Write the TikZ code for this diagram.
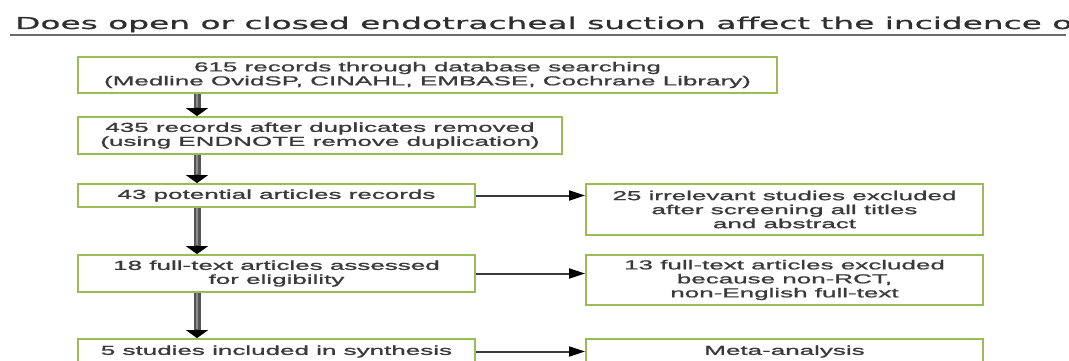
\documentclass[tikz,border=0pt]{standalone}
\usepackage{fontspec}
\usetikzlibrary{arrows.meta,shadows}
\newfontfamily\boxfont[FakeStretch=2,FakeBold=1.2]{Liberation Sans}
\newfontfamily\titlefont[FakeStretch=2,FakeBold=0.8]{DejaVu Sans}
\definecolor{boxgreen}{HTML}{9BBB59}
\definecolor{boxtext}{HTML}{3A3A3A}
\definecolor{titletext}{HTML}{2F2F2F}
\definecolor{rulegray}{HTML}{6B6B6B}
\definecolor{shaftgray}{HTML}{555555}
\definecolor{shaftlight}{HTML}{8C8C8C}
\tikzset{
  flowbox/.style={draw=boxgreen, line width=1.8pt, fill=white, rectangle,
    inner sep=0pt, align=center, text=boxtext,
    font=\boxfont\fontsize{13}{14}\selectfont,
    drop shadow={opacity=0.25, shadow xshift=1.2pt, shadow yshift=-1.2pt}},
  downarrow/.style={line width=7pt, draw=shaftgray,
    -{Triangle[width=22pt,length=8pt,color=black]}},
  downlight/.style={line width=2.2pt, draw=shaftlight, shorten >=9pt},
  sidearrow/.style={line width=2pt, draw=boxtext,
    -{Triangle[width=10pt,length=16pt,color=black]}},
}
\begin{document}
\begin{tikzpicture}[x=1pt,y=-1pt]
\useasboundingbox (0,0) rectangle (1069,361);
\clip (0,0) rectangle (1069,361);
\fill[white] (0,0) rectangle (1069,361);

% title
\node[anchor=base west, inner sep=0pt, text=titletext,
      font=\titlefont\fontsize{16.4}{18}\selectfont] (title) at (15,29)
  {Does open or closed endotracheal suction affect the incidence of};
\coordinate (ruleL) at (10,35);
\coordinate (ruleR) at (1066,35);
\draw[rulegray, line width=2pt] (ruleL) -- (ruleR);

% left column
\node[flowbox, minimum width=699pt, minimum height=36pt] (b1) at (427.5,75)
  {615 records through database searching\\(Medline OvidSP, CINAHL, EMBASE, Cochrane Library)};
\node[flowbox, minimum width=484pt, minimum height=37pt] (b2) at (320,135.5)
  {435 records after duplicates removed\\(using ENDNOTE remove duplication)};
\node[flowbox, minimum width=397pt, minimum height=23pt] (b3) at (276.5,195.5)
  {43 potential articles records};
\node[flowbox, minimum width=397pt, minimum height=37pt] (b4) at (276.5,273.5)
  {18 full-text articles assessed\\for eligibility};
\node[flowbox, minimum width=397pt, minimum height=25pt] (b5) at (276.5,351.5)
  {5 studies included in synthesis};

% right column
\node[flowbox, minimum width=397pt, minimum height=51pt] (r1) at (784.5,209.5)
  {25 irrelevant studies excluded\\after screening all titles\\and abstract};
\node[flowbox, minimum width=397pt, minimum height=50pt] (r2) at (784.5,280)
  {13 full-text articles excluded\\because non-RCT,\\non-English full-text};
\node[flowbox, minimum width=397pt, minimum height=25pt] (r3) at (784.5,351.5)
  {Meta-analysis};

% vertical arrows
\coordinate (col) at (197,0);
\foreach \a/\b in {b1/b2,b2/b3,b3/b4,b4/b5}{
  \draw[downarrow] (\a.south -| col) -- (\b.north -| col);
  \draw[downlight] (\a.south -| col) -- (\b.north -| col);
}

% horizontal arrows
\draw[sidearrow] (b3.east) -- (b3.east -| r1.west);
\draw[sidearrow] (b4.east) -- (b4.east -| r2.west);
\draw[sidearrow] (b5.east) -- (b5.east -| r3.west);
\end{tikzpicture}
\end{document}
